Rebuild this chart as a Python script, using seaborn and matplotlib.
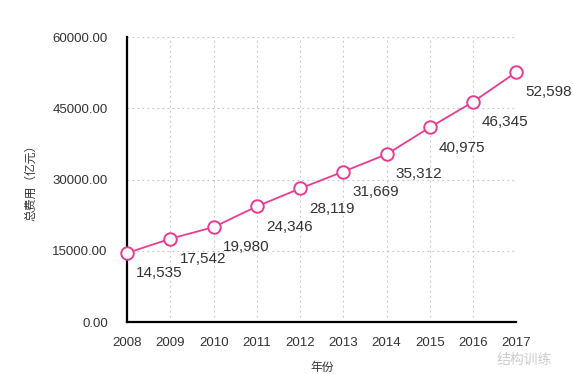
import numpy as np
import pandas as pd
import seaborn as sns
import matplotlib.pyplot as plt
from matplotlib.ticker import FormatStrFormatter

years = [2008, 2009, 2010, 2011, 2012, 2013, 2014, 2015, 2016, 2017]
total_cost = [14535, 17542, 19980, 24346, 28119, 31669, 35312, 40975, 46345, 52598]
y_ticks = [0, 15000, 30000, 45000, 60000]

df = pd.DataFrame({'year': years, 'cost': total_cost})

sns.set_style('white')
plt.rcParams['font.family'] = ['Liberation Sans', 'Noto Sans CJK SC', 'DejaVu Sans']

fig = plt.figure(figsize=(5.73, 3.74), dpi=100)
ax = fig.add_axes([0.222, 0.139, 0.679, 0.762])

line_col = '#ea3b93'
sns.lineplot(data=df, x='year', y='cost', ax=ax, color=line_col, linewidth=1.3,
             marker='o', markersize=9, markerfacecolor='white',
             markeredgecolor=line_col, markeredgewidth=1.4, zorder=5)
for ln in ax.lines:
    ln.set_clip_on(False)

# value labels below-right of each point
for x, y in zip(years, total_cost):
    ax.annotate(f'{y:,}', (x, y), xytext=(6.5, -14.5), textcoords='offset points',
                ha='left', va='center', fontsize=11, color='#333333',
                annotation_clip=False)

ax.set_xlim(years[0], years[-1])
ax.set_ylim(0, 60000)
ax.set_xticks(years)
ax.set_yticks(y_ticks)
ax.yaxis.set_major_formatter(FormatStrFormatter('%.2f'))
ax.grid(True, linestyle=(0, (1.5, 3)), color='#c4c4c4', linewidth=0.8)

for s in ['top', 'right']:
    ax.spines[s].set_visible(False)
for s in ['left', 'bottom']:
    ax.spines[s].set_color('black')
    ax.spines[s].set_linewidth(1.6)

ax.tick_params(axis='both', direction='in', length=4, width=1.4, labelsize=9.5,
               labelcolor='#333333')
ax.tick_params(axis='y', pad=14)
ax.tick_params(axis='x', pad=11)
ax.set_xlabel('年份', fontsize=8.5, color='#333333', labelpad=9)
ax.set_ylabel('总费用（亿元）', fontsize=8.5, color='#333333', labelpad=11)

fig.text(0.915, 0.028, '结构训练', fontsize=10, color='#cccccc', ha='center')

fig.savefig('out.png', dpi=100)
